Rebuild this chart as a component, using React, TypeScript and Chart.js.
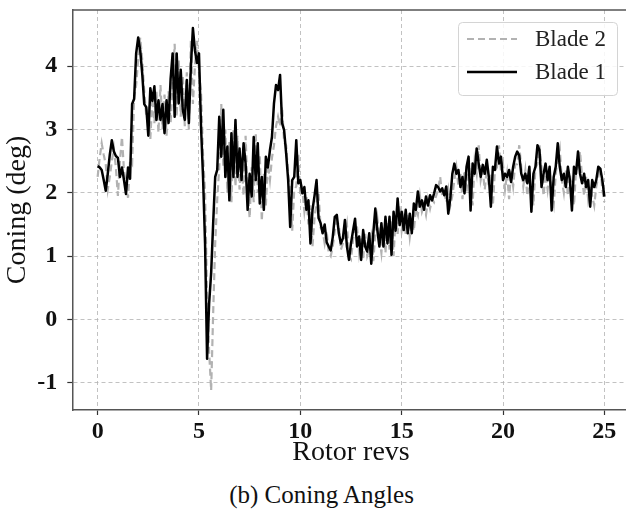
import { useEffect, useRef } from "react";
import { Chart, registerables } from "chart.js";

Chart.register(...registerables);

// Blade 1 coning angle (deg), sampled every 0.1 rotor rev from 0 to 25
const blade1 = [
  2.42, 2.40, 2.36, 2.20, 2.03, 2.30, 2.60, 2.83, 2.65, 2.58,
  2.55, 2.25, 2.40, 2.20, 1.98, 2.40, 2.22, 3.40, 3.48, 4.20,
  4.45, 4.25, 3.88, 3.40, 3.35, 2.90, 3.65, 3.45, 3.68, 3.15,
  3.46, 3.15, 3.40, 2.94, 3.46, 3.10, 3.80, 4.20, 3.20, 4.20,
  3.41, 3.94, 3.31, 3.15, 3.78, 3.10, 3.99, 4.60, 4.25, 4.05,
  4.20, 3.05, 2.25, 1.20, -0.62, 0.25, 0.73, 1.52, 2.25, 2.36,
  3.20, 2.57, 3.31, 2.25, 2.73, 1.88, 2.94, 2.25, 3.15, 2.25,
  2.70, 2.20, 2.78, 2.46, 1.73, 2.30, 1.94, 2.88, 2.20, 2.78,
  1.83, 2.25, 1.73, 2.57, 2.40, 2.67, 2.88, 3.41, 3.70, 3.62,
  3.86, 3.10, 2.99, 2.62, 2.20, 1.46, 2.20, 2.25, 2.83, 2.15,
  2.20, 1.99, 2.09, 1.73, 1.88, 1.20, 1.73, 1.95, 2.20, 1.60,
  1.52, 1.36, 1.50, 1.22, 1.15, 1.09, 1.30, 1.62, 1.65, 1.36,
  1.20, 1.28, 1.57, 1.15, 0.94, 1.20, 1.40, 1.59, 1.15, 1.31,
  0.94, 1.41, 1.15, 1.07, 1.36, 0.88, 1.36, 1.75, 1.41, 1.15,
  1.52, 1.15, 1.62, 1.20, 1.62, 1.02, 1.70, 1.40, 1.91, 1.49,
  1.70, 1.41, 1.73, 1.36, 1.67, 1.36, 1.83, 1.73, 2.02, 1.78,
  1.88, 1.73, 1.94, 1.80, 1.96, 1.88, 1.99, 2.12, 2.09, 2.02,
  2.07, 1.96, 2.10, 1.67, 1.91, 2.30, 2.46, 2.30, 2.36, 2.09,
  2.25, 1.99, 2.41, 2.57, 1.72, 2.46, 2.30, 2.70, 2.46, 2.25,
  2.44, 2.30, 2.52, 2.25, 1.78, 2.41, 2.36, 2.73, 2.46, 2.57,
  2.20, 2.30, 2.25, 2.36, 2.17, 2.41, 2.57, 2.65, 2.59, 2.30,
  2.20, 2.30, 2.15, 2.41, 1.70, 2.30, 2.41, 2.75, 2.67, 2.09,
  2.30, 2.46, 2.20, 2.41, 1.72, 2.25, 2.41, 2.78, 2.41, 2.20,
  2.30, 2.09, 2.41, 2.20, 1.72, 2.41, 2.30, 2.65, 2.30, 2.15,
  2.30, 2.09, 2.20, 1.78, 2.20, 2.09, 2.20, 2.41, 2.38, 2.20,
  1.94,
];

// Blade 2 coning angle (deg), same sampling
const blade2 = [
  2.25, 2.55, 2.78, 2.60, 2.45, 2.05, 2.25, 2.50, 2.70, 2.40,
  1.95, 2.50, 2.88, 2.35, 2.15, 1.92, 2.50, 2.45, 3.50, 3.70,
  4.10, 4.45, 4.10, 3.60, 3.20, 3.30, 2.85, 3.50, 3.10, 3.60,
  2.95, 3.70, 3.00, 3.55, 2.90, 3.60, 3.10, 3.75, 4.35, 3.20,
  4.10, 3.20, 3.85, 3.05, 3.90, 3.00, 4.40, 3.40, 4.00, 4.40,
  3.90, 3.60, 2.60, 2.00, 0.40, -0.50, -1.12, 0.10, 1.20, 1.90,
  2.40, 3.40, 2.40, 3.00, 2.00, 2.80, 1.85, 3.00, 2.10, 2.90,
  2.05, 2.55, 1.95, 2.90, 2.00, 1.60, 2.40, 1.85, 2.95, 2.00,
  2.60, 1.55, 2.30, 1.80, 2.45, 2.20, 2.55, 2.75, 3.05, 3.20,
  3.05, 3.36, 2.80, 2.75, 2.30, 2.05, 1.40, 2.05, 2.10, 2.60,
  1.95, 2.05, 1.70, 1.95, 1.50, 1.80, 1.15, 1.60, 1.85, 2.00,
  1.45, 1.40, 1.20, 1.40, 1.05, 1.00, 1.15, 1.40, 1.55, 1.50,
  1.10, 1.20, 1.30, 1.50, 1.00, 0.95, 1.25, 1.50, 1.45, 1.05,
  1.30, 0.95, 1.35, 1.00, 1.10, 1.30, 0.92, 1.35, 1.60, 1.30,
  1.05, 1.45, 1.05, 1.55, 1.10, 1.55, 1.00, 1.60, 1.35, 1.80,
  1.40, 1.60, 1.35, 1.65, 1.30, 1.55, 1.40, 1.75, 1.65, 1.95,
  1.70, 1.80, 1.65, 1.90, 1.75, 1.90, 1.85, 1.95, 2.05, 2.25,
  1.95, 2.00, 1.85, 2.05, 1.80, 1.95, 2.20, 2.40, 2.10, 2.30,
  1.90, 2.35, 2.00, 2.55, 2.15, 1.80, 2.50, 2.30, 2.75, 2.20,
  2.35, 2.05, 2.40, 2.10, 2.30, 1.80, 2.35, 2.40, 2.75, 2.35,
  2.45, 2.05, 2.30, 1.90, 2.35, 2.10, 2.45, 2.45, 2.75, 2.40,
  2.10, 2.35, 1.95, 2.20, 2.05, 1.80, 2.40, 2.45, 2.75, 2.40,
  1.95, 2.30, 2.05, 2.35, 1.95, 1.80, 2.30, 2.55, 2.70, 2.20,
  2.00, 2.35, 1.95, 2.30, 2.00, 1.80, 2.35, 2.40, 2.65, 2.25,
  1.95, 2.25, 1.90, 2.10, 1.95, 1.80, 2.10, 2.25, 2.40, 2.05,
  1.85,
];

// rotor revolutions of each sample (0.1 rev spacing)
const revs = blade1.map((_, i) => i / 10);

const xTicks = [0, 5, 10, 15, 20, 25];
const yTicks = [-1, 0, 1, 2, 3, 4];
const seriesNames = ["Blade 2", "Blade 1"];
const xTitle = "Rotor revs";
const yTitle = "Coning (deg)";
const caption = "(b) Coning Angles";

const SERIF = "'Liberation Serif', 'Times New Roman', serif";
const GRAY = "#b2b2b2";

const framePlugin = {
  id: "frameTop",
  beforeDatasetsDraw(chart: any) {
    const { ctx, chartArea: a } = chart;
    ctx.save();
    ctx.strokeStyle = "#555";
    ctx.lineWidth = 1.5;
    ctx.beginPath();
    ctx.moveTo(a.left, a.top);
    ctx.lineTo(a.right, a.top);
    ctx.lineTo(a.right, a.bottom);
    ctx.stroke();
    ctx.restore();
  },
};

const legendPlugin = {
  id: "boxLegend",
  afterDraw(chart: any) {
    const { ctx } = chart;
    ctx.save();
    const bx = 458.5, by = 22.5, bw = 159, bh = 73;
    ctx.beginPath();
    if ((ctx as any).roundRect) (ctx as any).roundRect(bx, by, bw, bh, 4);
    else ctx.rect(bx, by, bw, bh);
    ctx.fillStyle = "rgba(255,255,255,0.85)";
    ctx.fill();
    ctx.strokeStyle = "#d4d4d4";
    ctx.lineWidth = 1;
    ctx.stroke();
    const rows = [39, 72];
    seriesNames.forEach((name, i) => {
      const ds = chart.data.datasets.find((d: any) => d.label === name);
      if (!ds) return;
      const y = rows[i];
      ctx.beginPath();
      ctx.setLineDash(ds.borderDash || []);
      ctx.strokeStyle = ds.borderColor;
      ctx.lineWidth = ds.borderWidth;
      ctx.moveTo(467, y);
      ctx.lineTo(517, y);
      ctx.stroke();
      ctx.setLineDash([]);
      ctx.fillStyle = "#222";
      ctx.font = `23px ${SERIF}`;
      ctx.textBaseline = "middle";
      ctx.textAlign = "left";
      ctx.fillText(name, 535, y + 1);
    });
    ctx.restore();
  },
};

export default function App() {
  const ref = useRef<HTMLCanvasElement | null>(null);

  useEffect(() => {
    if (!ref.current) return;
    const tickFont = { family: SERIF, size: 24, weight: "bold" as const };
    const titleFont = { family: SERIF, size: 28 };
    const grid = {
      color: GRAY,
      lineWidth: 0.8,
      tickLength: 5,
      tickColor: "#333",
      tickWidth: 1.2,
      tickBorderDash: [],
    };
    const border = { color: "#555", width: 1.5, dash: [4, 3] };
    const chart = new Chart(ref.current, {
      type: "line",
      data: {
        datasets: [
          {
            label: seriesNames[1],
            data: revs.map((x, i) => ({ x, y: blade1[i] })),
            borderColor: "#000",
            borderWidth: 2.5,
            pointRadius: 0,
            tension: 0,
            borderJoinStyle: "round",
            order: 0,
          },
          {
            label: seriesNames[0],
            data: revs.map((x, i) => ({ x, y: blade2[i] })),
            borderColor: GRAY,
            borderWidth: 2.2,
            borderDash: [7, 4],
            pointRadius: 0,
            tension: 0,
            order: 1,
          },
        ],
      },
      options: {
        responsive: false,
        animation: false,
        layout: { padding: { left: 0, top: 10, right: 20.3, bottom: 0 } },
        plugins: { legend: { display: false }, tooltip: { enabled: false } },
        scales: {
          x: {
            type: "linear",
            min: -1.25,
            max: 26.25,
            afterBuildTicks: (s: any) => {
              s.ticks = xTicks.map((v) => ({ value: v }));
            },
            afterFit: (s: any) => {
              s.height = 70;
              s.paddingLeft = 0;
              s.paddingRight = 0;
            },
            ticks: {
              font: tickFont,
              color: "#111",
              padding: 2,
              maxRotation: 0,
              autoSkip: false,
              callback: (v: any) => String(v),
            },
            grid,
            border,
            title: {
              display: true,
              text: xTitle,
              font: titleFont,
              color: "#111",
              padding: { top: 0, bottom: 11 },
            },
          },
          y: {
            type: "linear",
            min: -1.43,
            max: 4.885,
            afterBuildTicks: (s: any) => {
              s.ticks = yTicks.map((v) => ({ value: v }));
            },
            afterFit: (s: any) => {
              s.width = 72.3;
              s.paddingTop = 0;
              s.paddingBottom = 0;
            },
            ticks: {
              font: tickFont,
              color: "#111",
              padding: 10,
              autoSkip: false,
              callback: (v: any) => String(v),
            },
            grid,
            border,
            title: {
              display: true,
              text: yTitle,
              font: titleFont,
              color: "#111",
              padding: { top: 1, bottom: 0 },
            },
          },
        },
      } as any,
      plugins: [framePlugin, legendPlugin],
    });
    return () => chart.destroy();
  }, []);

  return (
    <div
      style={{
        position: "absolute",
        left: 0,
        top: 0,
        width: 626,
        height: 523,
        overflow: "hidden",
        background: "#fff",
      }}
    >
      <canvas
        ref={ref}
        width={650}
        height={480}
        style={{ position: "absolute", left: 0, top: 0, width: 650, height: 480 }}
      />
      <div
        style={{
          position: "absolute",
          left: 0,
          top: 480,
          width: 643,
          textAlign: "center",
          fontFamily: SERIF,
          fontSize: 25,
          lineHeight: "30px",
          color: "#111",
        }}
      >
        {caption}
      </div>
    </div>
  );
}
